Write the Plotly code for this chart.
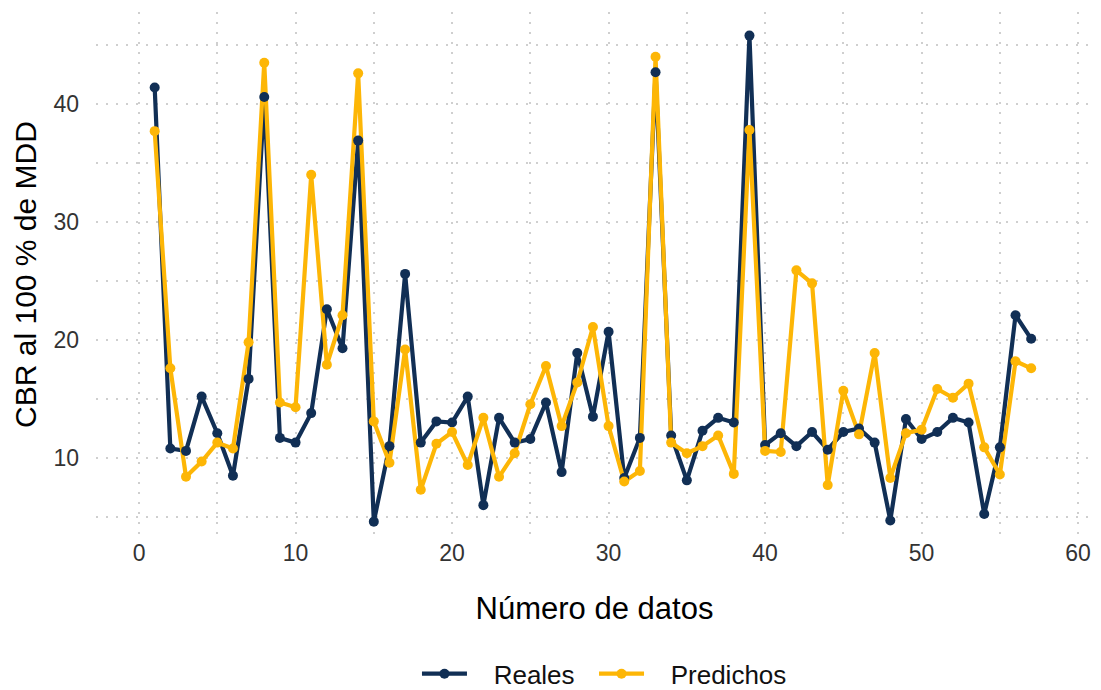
import plotly.graph_objects as go

idx = list(range(1, 58))
reales = [41.4, 10.8, 10.6, 15.2, 12.1, 8.5, 16.7, 40.6, 11.7, 11.3,
          13.8, 22.6, 19.3, 36.9, 4.6, 11.0, 25.6, 11.3, 13.1, 13.0,
          15.2, 6.0, 13.4, 11.3, 11.6, 14.7, 8.8, 18.9, 13.5, 20.7,
          8.3, 11.7, 42.7, 11.9, 8.1, 12.3, 13.4, 13.0, 45.8, 11.1,
          12.1, 11.0, 12.2, 10.7, 12.2, 12.5, 11.3, 4.7, 13.3, 11.6,
          12.2, 13.4, 13.0, 5.25, 10.9, 22.1, 20.1]
predichos = [37.7, 17.6, 8.4, 9.7, 11.3, 10.8, 19.8, 43.5, 14.7, 14.3,
             34.0, 17.9, 22.1, 42.6, 13.1, 9.6, 19.2, 7.3, 11.2, 12.2,
             9.4, 13.4, 8.4, 10.4, 14.55, 17.8, 12.7, 16.4, 21.1, 12.7,
             8.0, 8.9, 44.0, 11.3, 10.4, 11.0, 11.9, 8.65, 37.8, 10.6,
             10.5, 25.9, 24.8, 7.7, 15.7, 12.0, 18.9, 8.3, 12.1, 12.4,
             15.85, 15.1, 16.3, 10.9, 8.6, 18.2, 17.6]
series_names = ["Reales", "Predichos"]

BLUE = "#112F55"
GOLD = "#FDB606"
LW = 4.2
MS = 10
NB = "\u00a0"

fig = go.Figure()
# lines first (blue under gold), then points
fig.add_trace(go.Scatter(x=idx, y=reales, mode="lines", line=dict(color=BLUE, width=LW),
                         showlegend=False, hoverinfo="skip"))
fig.add_trace(go.Scatter(x=idx, y=predichos, mode="lines", line=dict(color=GOLD, width=LW),
                         showlegend=False, hoverinfo="skip"))
fig.add_trace(go.Scatter(x=idx, y=reales, mode="markers", marker=dict(color=BLUE, size=MS),
                         name=series_names[0], showlegend=False))
fig.add_trace(go.Scatter(x=idx, y=predichos, mode="markers", marker=dict(color=GOLD, size=MS),
                         name=series_names[1], showlegend=False))
# legend entries
fig.add_trace(go.Scatter(x=[None], y=[None], mode="lines+markers",
                         line=dict(color=BLUE, width=LW), marker=dict(color=BLUE, size=MS),
                         name=NB * 3 + series_names[0] + NB * 2))
fig.add_trace(go.Scatter(x=[None], y=[None], mode="lines+markers",
                         line=dict(color=GOLD, width=LW), marker=dict(color=GOLD, size=MS),
                         name=NB * 3 + series_names[1]))

grid = dict(gridcolor="#cfcfcf", gridwidth=1.6, griddash="2px,8px")

fig.update_layout(
    width=1101, height=690,
    margin=dict(l=96, r=8, t=12, b=153),
    paper_bgcolor="white", plot_bgcolor="white",
    font=dict(family="Liberation Sans, Arial, sans-serif", color="#000000"),
    legend=dict(orientation="h", x=0.51, xanchor="center",
                yref="container", y=0.0235, yanchor="middle",
                font=dict(size=26, color="#111111"), itemwidth=45, traceorder="normal"),
)
fig.update_xaxes(range=[-2.75, 60.95], tickmode="linear", tick0=0, dtick=10,
                 showline=False, zeroline=False, ticks="",
                 tickfont=dict(size=23, color="#333333"), ticklabelstandoff=0,
                 title=dict(text="Número de datos", font=dict(size=31), standoff=32),
                 minor=dict(dtick=5, showgrid=True, **grid), **grid)
fig.update_yaxes(range=[3.3, 47.8], tickmode="linear", tick0=10, dtick=10,
                 showline=False, zeroline=False, ticks="",
                 tickfont=dict(size=23, color="#333333"), ticklabelstandoff=16,
                 title=dict(text="CBR al 100 % de MDD", font=dict(size=30), standoff=7),
                 minor=dict(dtick=5, showgrid=True, **grid), **grid)

fig.write_html("out.html")
